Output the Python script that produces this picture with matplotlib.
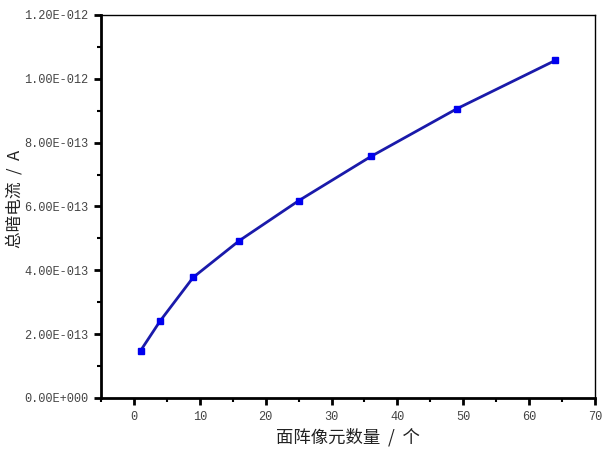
import matplotlib
matplotlib.use("Agg")
import matplotlib.pyplot as plt
from matplotlib.ticker import FuncFormatter, MultipleLocator

plt.rcParams['font.family'] = ['Noto Sans CJK SC', 'DejaVu Sans']

pixels = [1, 4, 9, 16, 25, 36, 49, 64]
current = [0.148e-12, 0.242e-12, 0.378e-12, 0.493e-12, 0.618e-12, 0.757e-12, 0.906e-12, 1.058e-12]

fig = plt.figure(figsize=(6.06, 4.55), dpi=100)
ax = fig.add_axes([101/606, 1-398/455, (595-101)/606, (398-15)/455])

ax.plot(pixels, current, color='#1a1aaa', lw=2, marker='s', markersize=5,
        markerfacecolor='#0000ee', markeredgecolor='#0000ee')

ax.set_xlim(-5, 70)
ax.set_ylim(0, 1.2e-12)
ax.xaxis.set_major_locator(MultipleLocator(10))
ax.xaxis.set_minor_locator(MultipleLocator(5))
ax.yaxis.set_major_locator(MultipleLocator(0.2e-12))
ax.yaxis.set_minor_locator(MultipleLocator(0.1e-12))

def yfmt(v, pos):
    if abs(v) < 1e-20:
        return "0.00E+000"
    s = "%.2E" % v
    mant, exp = s.split("E")
    e = int(exp)
    sign = '-' if e < 0 else '+'
    return "%sE%s%03d" % (mant, sign, abs(e))

ax.yaxis.set_major_formatter(FuncFormatter(yfmt))
ax.xaxis.set_major_formatter(FuncFormatter(lambda v, p: "%d" % v))

for side in ['left', 'bottom']:
    ax.spines[side].set_linewidth(2)
for side in ['top', 'right']:
    ax.spines[side].set_linewidth(1)

ax.tick_params(which='major', direction='out', length=5, width=2, labelsize=8.6, colors='black', pad=4)
ax.tick_params(which='minor', direction='out', length=3, width=1.5)
for lab in ax.get_xticklabels() + ax.get_yticklabels():
    lab.set_color('#444444')
    lab.set_fontfamily(['Liberation Mono', 'DejaVu Sans Mono'])

ax.set_xlabel("面阵像元数量  /  个", fontsize=12.5, color='#222222', labelpad=4)
ax.set_ylabel("总暗电流  /  A", fontsize=12, color='#222222')
ax.yaxis.set_label_coords(-0.174, 0.52)
ax.yaxis.label.set_verticalalignment('center')

fig.savefig("out.png", dpi=100)
